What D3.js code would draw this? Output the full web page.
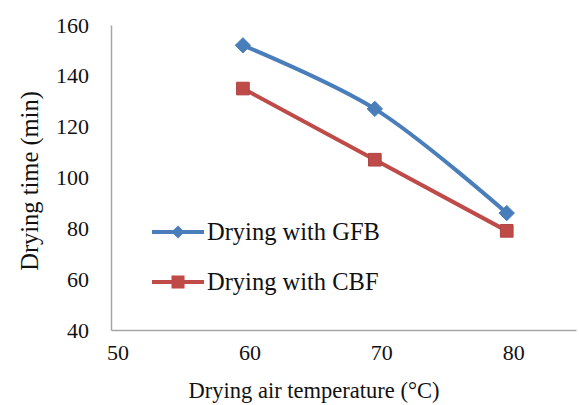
<!DOCTYPE html>
<html>
<head>
<meta charset="utf-8">
<script src="https://cdn.jsdelivr.net/npm/d3@7"></script>
<style>
  body { margin: 0; background: #fff; }
  text { font-family: "Liberation Serif", "Times New Roman", serif; fill: #111; }
</style>
</head>
<body>
<script>
'use strict';

// chart data
let temps = [60, 70, 80];
let gfbTime = [152, 127, 86];
let cbfTime = [135, 107, 79];
let xTicks = [50, 60, 70, 80];
let yTicks = [40, 60, 80, 100, 120, 140, 160];
let seriesNames = ["Drying with GFB", "Drying with CBF"];

(function() {
  let svg = d3.select('body').append('svg')
    .attr('width', 579)
    .attr('height', 405);

  let xScale = d3.scaleLinear().domain([50, 85.25]).range([111, 576]);
  let yScale = d3.scaleLinear().domain([40, 160]).range([330, 25]);

  // axes, no tick marks (excel style)
  let xAxis = d3.axisBottom(xScale).tickValues(xTicks).tickSize(0).tickPadding(14);
  let gx = svg.append('g').attr('transform', 'translate(0, 330)').call(xAxis);
  gx.select('.domain').attr('stroke', '#a6a6a6').attr('stroke-width', 1.5);
  gx.selectAll('text')
    .attr('font-size', '22px')
    .attr('font-family', '"Liberation Serif", serif')
    .attr('fill', '#111')
    .attr('dx', 6.5);

  let yAxis = d3.axisLeft(yScale).tickValues(yTicks).tickSize(0).tickPadding(22);
  let gy = svg.append('g').attr('transform', 'translate(111, 0)').call(yAxis);
  gy.select('.domain').attr('stroke', '#a6a6a6').attr('stroke-width', 1.5);
  gy.selectAll('text')
    .attr('font-size', '22px')
    .attr('font-family', '"Liberation Serif", serif')
    .attr('fill', '#111');

  // axis titles
  svg.append('text')
    .attr('x', 314)
    .attr('y', 398)
    .attr('text-anchor', 'middle')
    .style('font-size', '22.5px')
    .text('Drying air temperature (°C)');

  svg.append('text')
    .attr('transform', 'translate(38, 181)rotate(-90)')
    .attr('text-anchor', 'middle')
    .style('font-size', '24.5px')
    .text('Drying time (min)');

  let blue = '#4a7ebb';
  let red = '#be4b48';

  let gfbData = temps.map((t, i) => ({ x: t, y: gfbTime[i] }));
  let cbfData = temps.map((t, i) => ({ x: t, y: cbfTime[i] }));

  let smoothLine = d3.line()
    .x(d => xScale(d.x))
    .y(d => yScale(d.y))
    .curve(d3.curveCatmullRom);

  let straightLine = d3.line()
    .x(d => xScale(d.x))
    .y(d => yScale(d.y));

  svg.append('path')
    .attr('d', straightLine(cbfData))
    .attr('fill', 'none')
    .attr('stroke', red)
    .attr('stroke-width', 4);

  svg.append('path')
    .attr('d', smoothLine(gfbData))
    .attr('fill', 'none')
    .attr('stroke', blue)
    .attr('stroke-width', 4);

  let diamond = d3.symbol().type(d3.symbolDiamond2).size(150);
  let square = d3.symbol().type(d3.symbolSquare).size(160);

  svg.selectAll('.sq')
    .data(cbfData)
    .enter()
    .append('path')
      .attr('class', 'sq')
      .attr('d', square)
      .attr('transform', d => `translate(${xScale(d.x)}, ${yScale(d.y)})`)
      .attr('fill', red)
      .attr('stroke', '#b04440')
      .attr('stroke-width', 1);

  svg.selectAll('.dia')
    .data(gfbData)
    .enter()
    .append('path')
      .attr('class', 'dia')
      .attr('d', diamond)
      .attr('transform', d => `translate(${xScale(d.x)}, ${yScale(d.y)})`)
      .attr('fill', blue)
      .attr('stroke', blue)
      .attr('stroke-width', 1);

  // legend
  let legend = [
    { name: seriesNames[0], color: blue, sym: d3.symbol().type(d3.symbolDiamond2).size(110), y: 232 },
    { name: seriesNames[1], color: red, sym: d3.symbol().type(d3.symbolSquare).size(170), y: 282 }
  ];
  legend.forEach(l => {
    svg.append('line')
      .attr('x1', 152).attr('x2', 204)
      .attr('y1', l.y).attr('y2', l.y)
      .attr('stroke', l.color)
      .attr('stroke-width', 4);
    svg.append('path')
      .attr('d', l.sym)
      .attr('transform', `translate(178, ${l.y})`)
      .attr('fill', l.color);
    svg.append('text')
      .attr('x', 207)
      .attr('y', l.y + 8)
      .style('font-size', '24.5px')
      .text(l.name);
  });
})();
</script>
</body>
</html>
